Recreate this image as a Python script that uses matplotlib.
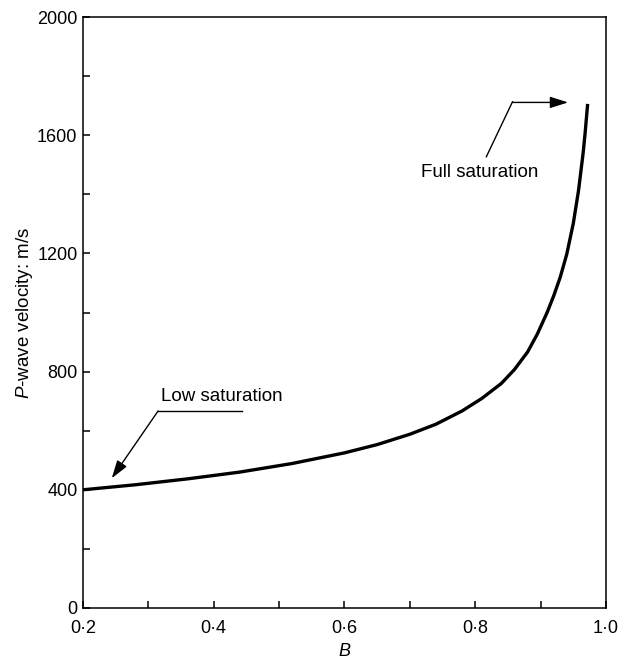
import matplotlib.pyplot as plt
import numpy as np

plt.rcParams['font.family'] = ['Liberation Sans', 'DejaVu Sans']
plt.rcParams['mathtext.fontset'] = 'custom'
plt.rcParams['mathtext.it'] = 'Liberation Sans:italic'
plt.rcParams['mathtext.rm'] = 'Liberation Sans'

# curve
b_vals = [0.2, 0.28, 0.36, 0.44, 0.52, 0.6, 0.65, 0.7, 0.74, 0.78,
          0.81, 0.84, 0.86, 0.88, 0.895, 0.91, 0.92, 0.93, 0.94, 0.95,
          0.958, 0.965, 0.968, 0.972]
velocity = [400, 417, 437, 460, 489, 525, 553, 588, 622, 667,
            709, 760, 807, 866, 927, 1000, 1056, 1119, 1197, 1301,
            1412, 1538, 1604, 1706]

x_ticks = [0.2, 0.4, 0.6, 0.8, 1.0]
x_labels = ['0·2', '0·4', '0·6', '0·8', '1·0']
y_ticks = [0, 400, 800, 1200, 1600, 2000]

fig = plt.figure(figsize=(6.22, 6.6), dpi=100)
ax = fig.add_axes([0.1334, 0.0788, 0.8408, 0.8954])

ax.plot(b_vals, velocity, color='black', lw=2.4, solid_capstyle='butt',
        solid_joinstyle='round')

ax.set_xlim(0.2, 1.0)
ax.set_ylim(0, 2000)
ax.set_xticks(x_ticks)
ax.set_xticklabels(x_labels)
ax.set_xticks(np.arange(0.3, 1.0, 0.2), minor=True)
ax.set_yticks(y_ticks)
ax.set_yticks(np.arange(200, 2000, 400), minor=True)

for s in ax.spines.values():
    s.set_linewidth(1.1)
ax.tick_params(which='both', direction='in', length=5, width=1.1,
               top=False, right=False, labelsize=13, colors='black')
ax.tick_params(axis='y', pad=4)
ax.tick_params(axis='x', pad=9)

ax.set_xlabel('$\\it{B}$', fontsize=13, labelpad=4)
ax.set_ylabel('$\\it{P}$-wave velocity: m/s', fontsize=13.5, labelpad=1.5)

# Full saturation callout
ax.text(0.807, 1475, 'Full saturation', fontsize=13.5, ha='center', va='center')
ax.plot([0.817, 0.857], [1527, 1713], color='black', lw=1)
ax.annotate('', xy=(0.942, 1711), xytext=(0.857, 1711),
            arrowprops=dict(arrowstyle='-|>,head_length=1.1,head_width=0.35',
                            color='black', lw=1, shrinkA=0, shrinkB=0))

# Low saturation callout
ax.text(0.412, 715, 'Low saturation', fontsize=13.5, ha='center', va='center')
ax.plot([0.443, 0.315], [667, 667], color='black', lw=1)
ax.annotate('', xy=(0.244, 439), xytext=(0.315, 667),
            arrowprops=dict(arrowstyle='-|>,head_length=1.1,head_width=0.35',
                            color='black', lw=1, shrinkA=0, shrinkB=0))

fig.savefig('out.png', dpi=100)
